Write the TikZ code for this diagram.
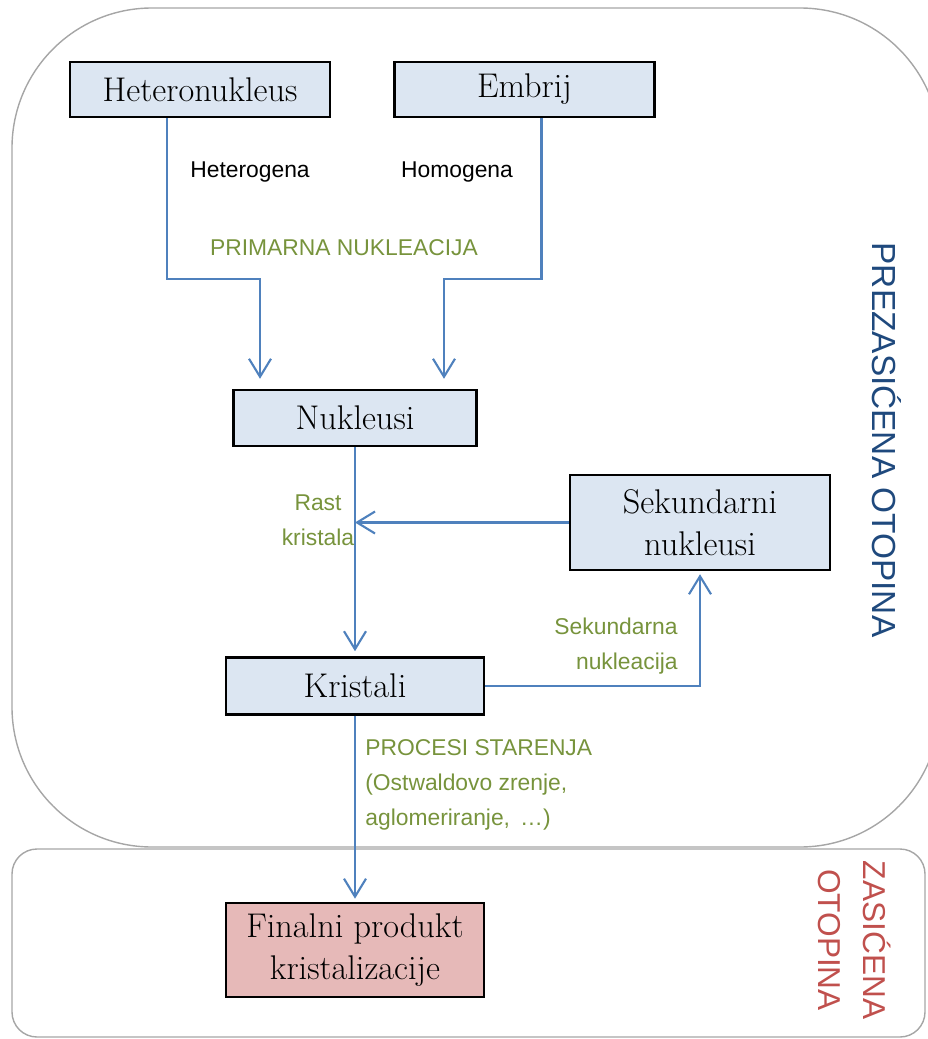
\documentclass[tikz,border=0pt]{standalone}
\usepackage{fontspec}
\usepackage{xcolor}
\usetikzlibrary{positioning,arrows.meta}
\newfontfamily\lblfont{Liberation Sans}
\definecolor{boxblue}{HTML}{DCE6F2}
\definecolor{boxpink}{HTML}{E6B9B8}
\definecolor{linkblue}{HTML}{4F81BD}
\definecolor{lblgreen}{HTML}{77933C}
\definecolor{regblue}{HTML}{1F497D}
\definecolor{regred}{HTML}{C0504D}
\definecolor{framegray}{HTML}{A6A6A6}

\begin{document}
\begin{tikzpicture}[
        box/.style={draw=black, line width=1.4pt, fill=boxblue, minimum width=5.2cm,
            minimum height=1.1cm, inner sep=0pt, align=center,
            font=\fontsize{19.5}{24}\selectfont},
        flow/.style={draw=linkblue, line width=1.2pt, -{Straight Barb[length=3.6mm,width=4.4mm]}},
        lbl/.style={font=\lblfont\fontsize{13}{20}\selectfont, inner sep=0pt},
        note/.style={lbl, text=lblgreen},
        region/.style={draw=framegray, line width=0.8pt}
    ]
    \useasboundingbox (0,0) rectangle (18.56,-20.78);
    \clip (0,0) rectangle (18.56,-20.78);

    % solution regions
    \draw[region, rounded corners=2.8cm] (0.24,-0.16) rectangle (18.8,-16.94);
    \draw[region, rounded corners=0.5cm] (0.24,-16.98) rectangle (18.5,-20.74);

    \node[box] (het) at (4.0,-1.79) {Heteronukleus};
    \node[box, right=1.24cm of het] (emb) {Embrij};
    \node[box, minimum width=4.86cm, minimum height=1.12cm] (nuk) at (7.1,-8.36) {Nukleusi};
    \node[box, minimum width=5.16cm, minimum height=1.14cm, below=4.18cm of nuk] (krist) {Kristali};
    \node[box, fill=boxpink, minimum width=5.16cm, minimum height=1.88cm, below=3.72cm of krist] (fin) {Finalni produkt\\kristalizacije};
    \node[box, minimum height=1.9cm] (sek) at (14.0,-10.45) {Sekundarni\\nukleusi};

    \draw[flow, shorten >=0.2cm] ([xshift=-0.66cm]het.south) -- ++(0,-3.22) -| ([xshift=-1.9cm]nuk.north);
    \draw[flow, shorten >=0.2cm] ([xshift=0.34cm]emb.south) -- ++(0,-3.22) -| ([xshift=1.78cm]nuk.north);
    \draw[flow, shorten >=0.1cm] (nuk.south) -- (krist.north);
    \draw[flow] (sek.west) -- (sek.west -| nuk.south);
    \draw[flow, shorten >=0.06cm] (krist.east) -| (sek.south);
    \draw[flow, shorten >=0.06cm] (krist.south) -- (fin.north);

    \node[lbl] (hetlbl) at (5.0,-3.44) {Heterogena};
    \node[lbl] (homlbl) at (9.14,-3.44) {Homogena};
    \node[note] (prim) at (6.88,-4.96) {PRIMARNA NUKLEACIJA};
    \node[note, align=center] (rast) at (6.36,-10.4) {Rast\\kristala};
    \node[note, align=right, anchor=east] (seknuk) at (13.56,-12.92) {Sekundarna\\nukleacija};
    \node[note, align=left, anchor=west] (star) at (7.3,-15.7) {PROCESI STARENJA\\(Ostwaldovo zrenje,\\aglomeriranje, \,…)};

    \node[lbl, font=\lblfont\fontsize{19}{22}\selectfont, text=regblue, rotate=-90] (prez) at (17.74,-8.8) {PREZASIĆENA OTOPINA};
    \node[lbl, font=\lblfont\fontsize{18}{25.6}\selectfont, text=regred, rotate=-90, align=center] (zas) at (17.1,-18.8) {ZASIĆENA\\OTOPINA};
\end{tikzpicture}
\end{document}
